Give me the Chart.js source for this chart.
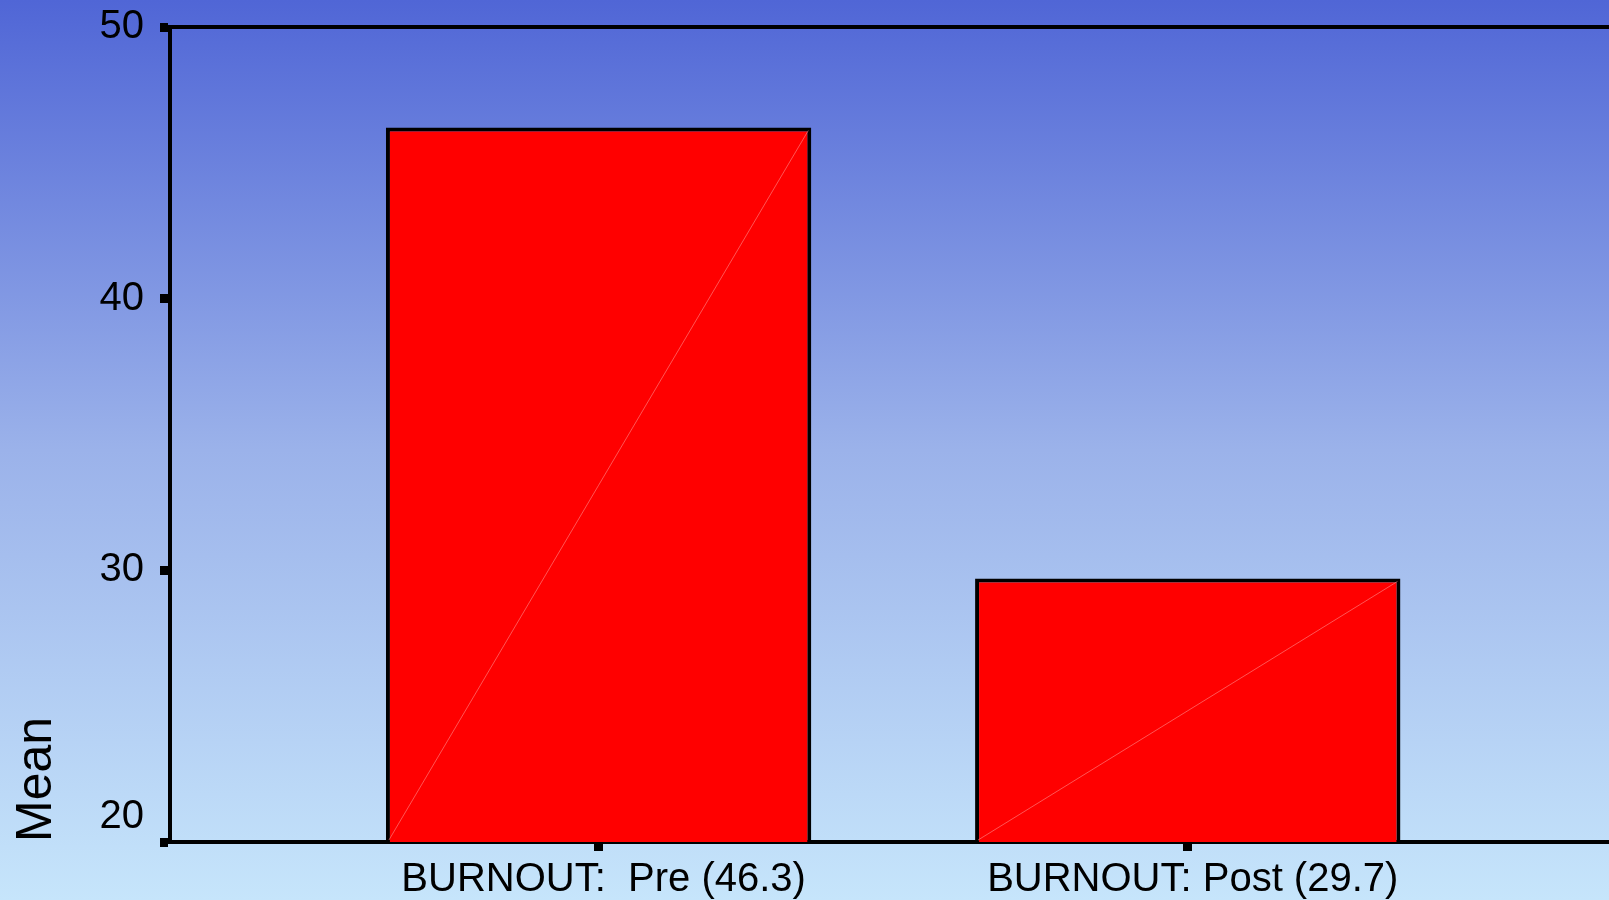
<!DOCTYPE html>
<html>
<head>
<meta charset="utf-8">
<script src="https://cdn.jsdelivr.net/npm/chart.js@4.4.1/dist/chart.umd.min.js"></script>
<style>
  html, body { margin: 0; padding: 0; overflow: hidden; }
  canvas { display: block; }
</style>
</head>
<body>
<canvas id="mycanvas" width="1609" height="900"></canvas>
<script>
"use strict";
// data
var categories = ['BURNOUT:  Pre (46.3)', 'BURNOUT: Post (29.7)'];
var means = [46.3, 29.7];
var yTicks = [20, 30, 40, 50];
var yTitle = 'Mean';

var FONT = '"Liberation Sans", Arial, sans-serif';

var bgPlugin = {
	id: 'bg',
	beforeDraw: function (chart) {
		var c = chart.ctx;
		var g = c.createLinearGradient(0, 0, 0, chart.height);
		g.addColorStop(0, '#5066d6');
		g.addColorStop(0.5, '#9bb2ea');
		g.addColorStop(1, '#c6e5fb');
		c.save();
		c.fillStyle = g;
		c.fillRect(0, 0, chart.width, chart.height);
		c.restore();
	}
};

var extrasPlugin = {
	id: 'extras',
	afterDatasetsDraw: function (chart) {
		// faint diagonal inside each bar
		var c = chart.ctx, a = chart.chartArea;
		var bars = chart.getDatasetMeta(0).data;
		c.save();
		c.strokeStyle = 'rgba(255,140,140,0.6)';
		c.lineWidth = 1;
		bars.forEach(function (b) {
			var l = b.x - b.width / 2 + 3, r = b.x + b.width / 2 - 3;
			var bottom = Math.min(b.base, a.bottom);
			c.beginPath();
			c.moveTo(l, bottom - 2);
			c.lineTo(r, b.y + 3);
			c.stroke();
		});
		c.restore();
	},
	afterDraw: function (chart) {
		var c = chart.ctx, a = chart.chartArea, ys = chart.scales.y;
		c.save();
		// top frame line
		c.strokeStyle = '#000';
		c.lineWidth = 4;
		c.beginPath();
		c.moveTo(a.left, a.top);
		c.lineTo(a.right, a.top);
		c.stroke();
		// lowest y label sits above its tick
		c.fillStyle = '#000';
		c.font = '40px ' + FONT;
		c.textAlign = 'right';
		c.textBaseline = 'middle';
		c.fillText(String(yTicks[0]), a.left - 26, ys.getPixelForValue(yTicks[0]) - 25);
		c.restore();
	}
};

var chartdata = {
	datasets: [{
		label: yTitle,
		data: means.map(function (v, i) { return { x: i + 1, y: v }; }),
		backgroundColor: '#ff0000',
		borderColor: '#000000',
		borderWidth: 4,
		borderSkipped: false,
		categoryPercentage: 1,
		barPercentage: 0.722
	}]
};

var ctx = document.getElementById('mycanvas');
var barGraph = new Chart(ctx, {
	type: 'bar',
	data: chartdata,
	plugins: [bgPlugin, extrasPlugin],
	options: {
		responsive: false,
		animation: false,
		layout: { padding: { top: 27, right: 0, left: 0, bottom: 0 } },
		plugins: { legend: { display: false }, tooltip: { enabled: false } },
		scales: {
			x: {
				type: 'linear',
				min: 0.2725,
				max: 2.715,
				offset: false,
				afterBuildTicks: function (scale) {
					scale.ticks = categories.map(function (c, i) { return { value: i + 1 }; });
				},
				afterFit: function (scale) { scale.height = 58; scale.paddingLeft = 0; scale.paddingRight = 0; },
				border: { display: true, color: '#000', width: 4 },
				grid: { offset: false, drawOnChartArea: false, drawTicks: true, tickLength: 9, tickWidth: 9, tickColor: '#000' },
				ticks: {
					autoSkip: false,
					maxRotation: 0,
					padding: 5,
					labelOffset: 5,
					color: '#000',
					font: { family: FONT, size: 40 },
					callback: function (v) { return categories[v - 1]; }
				}
			},
			y: {
				min: yTicks[0],
				max: yTicks[yTicks.length - 1],
				afterBuildTicks: function (scale) {
					scale.ticks = yTicks.map(function (v) { return { value: v }; });
				},
				afterFit: function (scale) { scale.width = 170; scale.paddingTop = 0; scale.paddingBottom = 0; },
				border: { display: true, color: '#000', width: 4 },
				grid: { drawOnChartArea: false, drawTicks: true, tickLength: 10, tickWidth: 9, tickColor: '#000' },
				ticks: {
					padding: 16,
					font: { family: FONT, size: 40 },
					color: function (c) { return c.tick && c.tick.value === yTicks[0] ? 'rgba(0,0,0,0)' : '#000'; }
				},
				title: {
					display: true,
					text: yTitle,
					align: 'start',
					color: '#000',
					font: { family: FONT, size: 50 },
					padding: { top: 7, bottom: 0 }
				}
			}
		}
	}
});
</script>
</body>
</html>
